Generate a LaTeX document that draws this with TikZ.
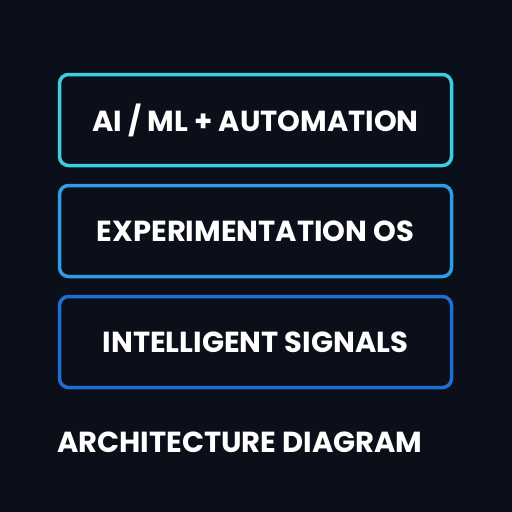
\documentclass[tikz,border=0pt]{standalone}
\usepackage{fontspec}
\setmainfont{Poppins}
\usetikzlibrary{positioning}
\definecolor{navy}{HTML}{0B0F1A}
\definecolor{cyanglow}{HTML}{3CCEDF}
\definecolor{skyblue}{HTML}{2F9CE6}
\definecolor{deepblue}{HTML}{1F6FD2}
\begin{document}
\begin{tikzpicture}[x=1pt, y=-1pt,
  layer/.style={draw, line width=3.5pt, fill=navy, rounded corners=9pt,
                minimum width=392pt, minimum height=91pt, align=center,
                text=white, font=\fontsize{29}{34}\selectfont\bfseries},
  caption/.style={text=white, font=\fontsize{29}{34}\selectfont\bfseries,
                  anchor=west, inner sep=0pt},
]
\fill[navy] (0,0) rectangle (512,512);
\useasboundingbox (0,0) rectangle (512,512);
\node[layer, draw=cyanglow] (aiml) at (255.5,120) {AI / ML + AUTOMATION};
\node[layer, draw=skyblue] (expos) at (255.5,231) {EXPERIMENTATION OS};
\node[layer, draw=deepblue] (signals) at (255.5,342) {INTELLIGENT SIGNALS};
\node[caption] (title) at (57,442) {ARCHITECTURE DIAGRAM};
\end{tikzpicture}
\end{document}
